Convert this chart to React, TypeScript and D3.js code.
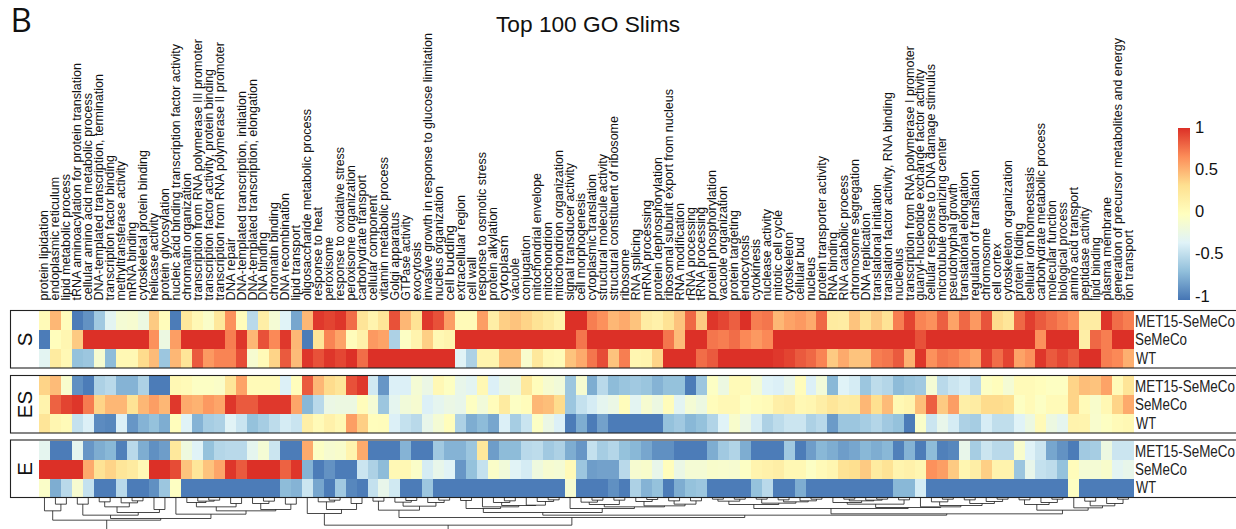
import React, { useMemo } from "react";
import * as d3 from "d3";

const goTerms = [
  "protein lipidation","endoplasmic reticulum","lipid metabolic process","tRNA aminoacylation for protein translation","cellular amino acid metabolic process","DNA-templated transcription, termination","transcription factor binding","methyltransferase activity","mRNA binding","cytoskeletal protein binding",
  "helicase activity","protein glycosylation","nucleic acid binding transcription factor activity","chromatin organization","transcription from RNA polymerase III promoter","transcription factor activity, protein binding","transcription from RNA polymerase II promoter","DNA repair","DNA-templated transcription, initiation","DNA-templated transcription, elongation",
  "DNA binding","chromatin binding","DNA recombination","lipid transport","oligosaccharide metabolic process","response to heat","peroxisome","response to oxidative stress","peroxisome organization","carbohydrate transport",
  "cellular component","vitamin metabolic process","Golgi apparatus","GTPase activity","exocytosis","invasive growth in response to glucose limitation","nucleus organization","cell budding","extracellular region","cell wall",
  "response to osmotic stress","protein alkylation","cytoplasm","vacuole","conjugation","mitochondrial envelope","mitochondrion","mitochondrion organization","signal transducer activity","cell morphogenesis",
  "cytoplasmic translation","structural molecule activity","structural constituent of ribosome","ribosome","RNA splicing","mRNA processing","protein dephosphorylation","ribosomal subunit export from nucleus","RNA modification","rRNA processing",
  "tRNA processing","protein phosphorylation","vacuole organization","protein targeting","endocytosis","cytokinesis","nuclease activity","mitotic cell cycle","cytoskeleton","cellular bud",
  "nucleus","protein transporter activity","RNA binding","RNA catabolic process","chromosome segregation","DNA replication","translational initiation","translation factor activity, RNA binding","nucleolus","transcription from RNA polymerase I promoter",
  "guanyl-nucleotide exchange factor activity","cellular response to DNA damage stimulus","microtubule organizing center","pseudohyphal growth","translational elongation","regulation of translation","chromosome","cell cortex","cytoskeleton organization","protein folding",
  "cellular ion homeostasis","carbohydrate metabolic process","molecular function","biological process","amino acid transport","peptidase activity","lipid binding","plasma membrane","generation of precursor metabolites and energy","ion transport",
];

// Where each rotated label ends at the top of the picture (its text runs wider than the installed fonts).
const labelTops = [
  210,177,174,63,93,74,155,161,222,150,
  213,188,44,173,39,69,42,238,91,79,
  232,202,193,225,109,207,237,147,165,175,
  195,157,212,215,242,33,186,225,195,257,
  152,207,235,258,235,173,222,150,163,193,
  174,154,116,249,229,200,157,89,203,207,
  207,170,186,210,235,239,209,210,232,237,
  257,156,232,175,159,213,184,92,248,46,
  69,64,137,183,172,170,228,243,160,223,
  167,123,200,202,187,207,237,197,38,230,
];

const strains = ["MET15-SeMeCo", "SeMeCo", "WT"];
const strainLabelWidths = [100, 52, 20];

const sMet15 = [
  .05,.5,.03,-.97,-.87,-.6,-.3,-.12,-.1,-.2,
  .42,.03,-.97,.25,.07,-.05,.25,.65,.03,-.5,
  .18,-.12,-.33,-.78,.5,.97,.93,.98,.78,.28,
  .12,.28,.88,.5,.3,.97,.88,.6,.05,.05,
  .6,.18,.4,.45,.38,.3,.22,.13,1,1,
  .72,.65,.5,.55,.45,.2,.15,.3,.45,.8,
  .42,.98,.92,.83,1,.72,.75,.5,.58,.62,
  .55,.8,.22,.2,.45,.3,.42,.3,.72,.93,
  .7,.65,.83,.58,.8,.62,.87,.35,.27,.8,
  .95,.85,.78,.72,.65,.2,.2,.98,.78,.72,
];
const sSeMeCo = [
  -.97,.02,.1,.42,1,1,1,1,1,1,
  .65,-.2,.6,1,1,1,1,.72,.98,.5,
  .88,.68,.97,.5,-.97,.28,.7,.58,.03,.15,
  .62,.58,-.55,-.03,.12,.4,.08,.12,1,1,
  1,1,1,1,1,1,1,1,1,.75,
  1,1,1,1,1,1,1,.75,.48,1,
  1,.75,.72,.78,.68,.62,.68,1,1,1,
  1,1,1,1,1,1,1,1,1,1,
  .88,1,1,1,1,1,1,1,1,1,
  1,.65,1,1,1,.18,.8,.72,1,1,
];
const sWT = [
  -.3,.22,.07,-.65,-.62,-.1,-.68,.08,.08,.35,
  .48,-.62,.5,.28,.85,.62,.7,.7,.9,-.1,
  .05,.38,.85,.48,.98,.88,.98,.92,1,.78,
  1,1,1,1,1,1,1,1,-.32,-.55,
  .12,.12,.47,.47,-.08,.25,.08,.05,.45,.55,
  .75,.9,.45,.72,.1,.12,.38,1,1,1,
  .78,.85,1,1,1,1,1,.97,.93,.85,
  .8,.7,.42,.55,.45,.45,.72,.75,.85,.52,
  .98,.65,.75,.72,.65,.58,.95,.78,.93,.58,
  .65,.98,.85,.92,.85,1,1,.72,.68,.53,
];
const esMet15 = [
  .38,.48,-.08,-.88,-.97,-.55,-.5,-.72,-.72,-.55,
  -.97,-.97,.08,.05,-.03,-.03,-.05,.28,.58,.05,
  .05,.05,-.35,.02,.85,.5,.35,.28,.88,.97,
  -.4,-.85,-.35,-.35,-.12,-.22,.07,-.02,-.25,-.3,
  .08,-.35,-.23,-.2,.25,.03,-.1,-.15,-.62,-.1,
  -.75,-.5,-.68,-.63,-.6,-.63,-.72,-.65,-.65,-.97,
  -.62,-.03,-.2,.05,.05,-.12,-.33,-.35,-.25,.03,
  -.35,-.15,-.7,-.33,-.38,-.62,-.48,-.52,-.68,-.63,
  -.6,-.12,-.5,-.42,-.38,-.5,-.03,.02,-.12,.05,
  .05,.02,-.02,-.02,.38,.47,.45,.58,.05,.28,
];
const esSeMeCo = [
  .13,.82,.93,.98,.73,.38,.5,.5,.3,.5,
  .6,.5,.97,.55,.52,.62,.57,.98,.85,.85,
  .97,.97,.97,.57,-.7,-.5,-.22,-.2,-.2,.03,
  -.12,-.62,-.28,-.15,-.1,-.35,-.28,-.22,-.25,-.02,
  -.15,.03,.22,-.03,.03,.5,.47,.35,-.62,-.45,
  -.38,-.28,-.22,.03,-.3,-.1,-.2,.03,-.3,-.12,
  -.2,.03,.07,.07,-.02,.03,.05,.17,.2,.08,
  .1,.18,.27,.2,.22,.5,.33,.48,.08,.12,
  .47,.83,.42,.6,.17,.2,.35,.35,.33,-.02,
  .05,-.03,.05,.05,.38,.05,-.07,.08,.38,.55,
];
const esWT = [
  .28,.1,.05,-.45,-.35,-.9,-.92,-.35,-.85,-.72,
  -.65,-.75,.02,-.33,-.72,-.58,-.55,-.32,-.43,-.65,
  -.58,-.48,-.38,-.43,.17,.05,.15,.08,.6,.4,
  .02,.03,-.35,-.45,-.5,-.25,-.12,.02,-.55,-.75,
  -.68,-.78,-.35,-.58,-.43,-.03,-.22,-.35,-.97,-.75,
  -.97,-.8,-.97,-.97,-.97,-.97,-.97,-.65,-.6,-.7,
  -.65,-.53,-.33,-.07,-.22,-.38,-.55,-.48,-.42,-.42,
  -.55,-.5,-.83,-.62,-.62,-.58,-.52,-.6,-.65,-.97,
  -.05,-.42,-.25,-.38,-.55,-.58,-.37,-.47,-.47,-.33,
  -.2,.05,-.2,-.28,.13,.12,-.08,-.02,.05,.08,
];
const eMet15 = [
  -.28,-.97,-.97,-.28,-.85,-.75,-.7,-.95,-.5,-.75,
  -.88,-.82,.25,-.18,-.33,-.65,-.52,-.5,-.5,-.28,
  -.12,-.42,-.97,-.97,.55,-.03,-.1,-.07,.12,.55,
  -.97,-.97,-.97,-.72,-.97,-.97,-.6,-.72,-.72,-.62,
  .25,-.82,-.68,-.68,-.5,-.48,-.6,-.55,-.75,-.85,
  -.45,-.58,-.52,-.65,-.7,-.78,-.88,-.88,-.97,-.97,
  -.97,-.75,-.6,-.53,-.75,-.97,-.97,-.97,-.6,-.97,
  -.82,-.7,-.75,-.82,-.78,-.7,-.75,-.7,-.95,-.72,
  -.97,-.68,-.95,-.92,-.25,-.58,-.42,-.5,-.5,-.08,
  -.33,-.42,-.78,-.87,-.97,-.6,-.58,-.2,-.42,-.42,
];
const eSeMeCo = [
  1,1,1,1,.55,.3,.38,.27,.22,.07,
  1,1,.9,.45,.27,.45,.57,.98,.85,1,
  1,1,.82,.98,-.72,-.97,-.87,-.97,-.97,-.42,
  -.55,-.68,.07,.08,-.05,-.38,-.25,-.32,-.85,-.65,
  -.45,-.05,-.15,-.32,-.38,-.18,-.1,-.12,.05,-.62,
  -.82,-.8,-.8,-.5,-.1,-.07,-.25,.02,-.22,-.12,
  -.12,-.07,-.08,-.1,-.03,.12,.15,.18,.08,.08,
  -.03,.05,.1,.3,.33,.42,.22,.3,.12,.15,
  .1,.65,.6,.42,.1,.18,.4,.13,.13,-.62,
  -.25,-.45,-.48,-.65,.03,-.12,-.12,-.07,-.3,-.25,
];
const eWT = [
  -.05,-.75,-.5,-.1,-.45,-.97,-.97,-.5,-.97,-.97,
  -.88,-.62,-.02,-.97,-.97,-.97,-.97,-.97,-.97,-.97,
  -.97,-.97,-.68,-.72,-.42,-.78,-.97,-.6,-.92,-.97,
  -.45,-.25,-.4,-.97,-.97,-.62,-.97,-.97,-.97,-.97,
  -.97,-.97,-.97,-.97,-.97,-.97,-.97,-.97,-.1,-.97,
  -.97,-.97,-.88,-.97,-.55,-.72,-.65,-.97,-.75,-.65,
  -.62,-.97,-.97,-.97,-.97,-.65,-.5,-.97,-.97,-.75,
  -.97,-.97,-.97,-.97,-.97,-.97,-.97,-.97,-.7,-.7,
  -.38,-.97,-.97,-.97,-.97,-.97,-.97,-.97,-.97,-.97,
  -.97,-.97,-.97,-.97,-.02,-.97,-.97,-.97,-.97,-.97,
];

const panelNames = ["S", "ES", "E"];
const panelValues = [
  [sMet15, sSeMeCo, sWT],
  [esMet15, esSeMeCo, esWT],
  [eMet15, eSeMeCo, eWT],
];

const colorDomain = [-1, -2 / 3, -1 / 3, 0, 1 / 3, 2 / 3, 1];
const colorRange = ["#4575b4", "#91bfdb", "#e0f3f8", "#ffffbf", "#fee090", "#fc8d59", "#dc3027"];
const legendTicks = [1, 0.5, 0, -0.5, -1];

// Dendrogram: [merge height, left, right]; numbers are leaf indexes.
type Tree = number | [number, Tree, Tree];
const treeLeft: Tree = [68,
  [40, 0, [20, 1, 2]],
  [63,
    [53, [20, 3, 4], [45, [28, [13, 5, 6], [16, 7, [10, 8, 9]]], [36, 10, 11]]],
    [50, 12, [40,
      [28, [15, 13, [11, 14, [8, 15, 16]]], [18, 17, 18]],
      [36, [18, 19, [11, 20, 21]], [20, 22, 23]]]]]];
const treeG1: Tree = [48, 24, [36, [13, 25, [8, 26, 27]], [18, 28, 29]]];
const treeF: Tree = [38, [11, 30, 31], [26, [14, 32, [9, 33, 34]], [15, 35, [8, 36, 37]]]];
const treeH: Tree = [33, [9, 38, 39], [28, 40, [24, [15, 41, [10, 42, 43]], [23, 44, [12, 45, [7, 46, 47]]]]]];
const treeN: Tree = [33, 48, [28,
  [21, [14, 49, [8, 50, 51]], [8, 52, 53]],
  [25, [12, 54, [6, 55, 56]], [20, [10, 57, 58], [10, 59, 60]]]]];
const treeU: Tree = [21,
  [11, [5, 61, 62], [5, 63, 64]],
  [17, [5, 65, 66], [13, [7, 67, 68], [10, 69, [5, 70, 71]]]]];
const treeW: Tree = [20, [15, 72, [10, [5, 73, 74], [8, 75, [5, 76, 77]]]], [7, 78, 79]];
const treeX: Tree = [28, 80, [24, [13, 81, [5, 82, 83]], [18, [7, 84, 85], [12, 86, [5, 87, 88]]]]];
const treeT: Tree = [38,
  [21, [7, 89, 90], [15, 91, [5, 92, 93]]],
  [31, 94, [25, [11, 95, 96], [18, 97, [5, 98, 99]]]]];
const treeRoot: Tree = [125, treeLeft,
  [83, treeG1, [60, treeF,
    [53, [45, treeH, treeN], [49, [33, treeU, [30, treeW, treeX]], treeT]]]]];

const WIDTH = 1236;
const HEIGHT = 529;
const LABEL_FONT = "'Liberation Sans', Arial, Helvetica, sans-serif";

export default function App() {
  const x = useMemo(() => d3.scaleBand<number>().domain(d3.range(goTerms.length)).range([39, 1134]), []);
  const panelTop = d3.scaleOrdinal<number, number>().domain([0, 1, 2]).range([311, 376, 440.5]);
  const rowH = 19;
  const color = d3.scaleLinear<string>().domain(colorDomain).range(colorRange).interpolate(d3.interpolateRgb);
  const hScale = d3.scaleLinear().domain([0, 125]).range([497.5, 497.5 + 125 / 3]);
  const legendY = d3.scaleLinear().domain([-1, 1]).range([300, 128]);
  const legendLabelY = d3.scaleLinear().domain([-1, 1]).range([296, 127]);
  const labelBase = 300.5;

  const links = useMemo(() => {
    const root = d3.hierarchy<Tree>(treeRoot, (d) => (Array.isArray(d) ? [d[1], d[2]] : null));
    const segs: string[] = [];
    const place = (n: d3.HierarchyNode<Tree>): { px: number; h: number } => {
      if (!n.children) return { px: (x(n.data as number) as number) + x.bandwidth() / 2, h: 0 };
      const [a, b] = n.children.map(place);
      const h = (n.data as [number, Tree, Tree])[0];
      const path = d3.path();
      path.moveTo(a.px, hScale(a.h));
      path.lineTo(a.px, hScale(h));
      path.lineTo(b.px, hScale(h));
      path.lineTo(b.px, hScale(b.h));
      segs.push(path.toString());
      return { px: (a.px + b.px) / 2, h };
    };
    place(root);
    return segs;
  }, []);

  return (
    <svg
      width={WIDTH}
      height={HEIGHT}
      style={{ position: "absolute", left: 0, top: 0, background: "#fff" }}
      fontFamily={LABEL_FONT}
    >
      <defs>
        <linearGradient id="legendGrad" x1="0" x2="0" y1="1" y2="0">
          {colorDomain.map((v, i) => (
            <stop key={i} offset={(v + 1) / 2} stopColor={colorRange[i]} />
          ))}
        </linearGradient>
      </defs>

      <text x={10.5} y={32} fontFamily="'Open Sans', sans-serif" fontSize={33} fill="#111">B</text>
      <text x={496} y={32} fontSize={22.7} fill="#111">Top 100 GO Slims</text>

      {goTerms.map((t, i) => (
        <text
          key={i}
          transform={`translate(${(x(i) as number) + x.bandwidth() / 2 + 4},${labelBase}) rotate(-90)`}
          fontSize={12}
          textLength={labelBase - labelTops[i]}
          lengthAdjust="spacingAndGlyphs"
          fill="#111"
        >
          {t}
        </text>
      ))}

      {panelValues.map((rows, p) => (
        <g key={p}>
          {rows.map((vals, r) =>
            vals.map((v, i) => (
              <rect
                key={i}
                x={x(i)}
                y={panelTop(p) + r * rowH}
                width={x.bandwidth()}
                height={rowH}
                fill={color(v)}
                shapeRendering="crispEdges"
              />
            ))
          )}
          <rect
            x={10.5}
            y={panelTop(p) - 0.5}
            width={1400}
            height={rowH * 3 + 0.5}
            fill="none"
            stroke="#222"
            strokeWidth={1.1}
          />
          <text
            transform={`translate(32,${panelTop(p) + rowH * 1.5}) rotate(-90)`}
            textAnchor="middle"
            fontSize={20.5}
            fill="#111"
          >
            {panelNames[p]}
          </text>
          {strains.map((s, r) => (
            <text
              key={s}
              x={s === "WT" ? 1136 : 1135}
              y={panelTop(p) + r * rowH + 16 - r * 0.6}
              fontSize={16}
              textLength={strainLabelWidths[r]}
              lengthAdjust="spacingAndGlyphs"
              fill="#222"
            >
              {s}
            </text>
          ))}
        </g>
      ))}

      <g fill="none" stroke="#1a1a1a" strokeWidth={0.8}>
        {links.map((d, i) => (
          <path key={i} d={d} />
        ))}
      </g>

      <rect
        x={1178}
        y={legendY(1)}
        width={12}
        height={legendY(-1) - legendY(1)}
        fill="url(#legendGrad)"
      />
      {legendTicks.map((t) => (
        <text key={t} x={1195} y={legendLabelY(t) + 5.5} fontSize={16.5} fill="#111">
          {t}
        </text>
      ))}
    </svg>
  );
}
